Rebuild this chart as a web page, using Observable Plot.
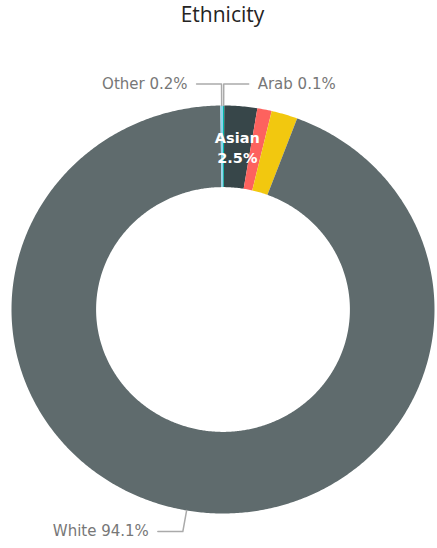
<!DOCTYPE html>
<html>
<head>
<meta charset="utf-8">
<script src="https://cdn.jsdelivr.net/npm/d3@7"></script>
<script src="https://cdn.jsdelivr.net/npm/@observablehq/plot@0.6"></script>
<style>
  html, body { margin: 0; padding: 0; background: #fff; }
  #title { height: 35px; box-sizing: border-box; text-align: center; font: 21px/27px "Open Sans", sans-serif; color: #252423; padding-left: 8px; padding-top: 1px; }
  svg { display: block; }
</style>
</head>
<body>
<div id="title">Ethnicity</div>
<div id="chart"></div>
<script>
// Data (clockwise from 12 o'clock)
const categories = ["Arab", "Asian", "Black", "Mixed", "White", "Other"];
const shares = [0.1, 2.5, 1.1, 2.0, 94.1, 0.2];
const colors = ["#01B8AA", "#374649", "#FD625E", "#F2C80F", "#5F6B6D", "#8AD4EB"];
const outsideLabels = ["Other", "Arab", "White"];
const insideLabels = ["Asian"];

// Layout constants
const innerR = 0.6, outerR = 1, elbowR = 1.105, armLen = 0.118;

const pie = d3.pie().sort(null).value(d => d)(shares);
const slices = pie.map((p, i) => ({key: categories[i], value: shares[i], a0: p.startAngle, a1: p.endAngle, mid: (p.startAngle + p.endAngle) / 2}));

// Slice outlines
const slicePts = [];
for (const s of slices) {
  const n = Math.max(2, Math.ceil((s.a1 - s.a0) / (Math.PI / 360)));
  for (let k = 0; k <= n; k++) {
    const a = s.a0 + (s.a1 - s.a0) * k / n;
    slicePts.push({key: s.key, x: outerR * Math.sin(a), y: outerR * Math.cos(a)});
  }
  for (let k = n; k >= 0; k--) {
    const a = s.a0 + (s.a1 - s.a0) * k / n;
    slicePts.push({key: s.key, x: innerR * Math.sin(a), y: innerR * Math.cos(a)});
  }
}

// Leader lines & outside labels
const leaderPts = [];
const outText = [];
for (const name of outsideLabels) {
  const s = slices.find(d => d.key === name);
  const side = Math.sin(s.mid) < 0 ? -1 : 1;
  const ex = elbowR * Math.sin(s.mid), ey = elbowR * Math.cos(s.mid);
  leaderPts.push({key: name, x: outerR * Math.sin(s.mid), y: outerR * Math.cos(s.mid)});
  leaderPts.push({key: name, x: ex, y: ey});
  leaderPts.push({key: name, x: ex + side * armLen, y: ey});
  outText.push({key: name, x: ex + side * armLen, y: ey, side, text: `${name} ${s.value}%`});
}

const inText = insideLabels.map(name => {
  const s = slices.find(d => d.key === name);
  const r = (innerR + outerR) / 2;
  return {x: r * Math.sin(s.mid), y: r * Math.cos(s.mid), text: `${name}\n${s.value}%`};
});

const chart = Plot.plot({
  width: 437,
  height: 513,
  marginLeft: 11,
  marginRight: 3,
  marginTop: 70,
  marginBottom: 35,
  x: {domain: [-1, 1], axis: null},
  y: {domain: [-1, 1], axis: null},
  color: {domain: categories, range: colors},
  style: {fontFamily: "DejaVu Sans, sans-serif"},
  marks: [
    Plot.line(slicePts, {x: "x", y: "y", z: "key", fill: "key", stroke: "none"}),
    Plot.line(leaderPts, {x: "x", y: "y", z: "key", stroke: "#aaaaaa", strokeWidth: 1.5}),
    Plot.text(outText.filter(d => d.side < 0), {x: "x", y: "y", text: "text", textAnchor: "end", dx: -9, fill: "#777777", fontSize: 15}),
    Plot.text(outText.filter(d => d.side > 0), {x: "x", y: "y", text: "text", textAnchor: "start", dx: 9, fill: "#777777", fontSize: 15}),
    Plot.text(inText, {x: "x", y: "y", text: "text", fill: "white", fontSize: 14.5, fontWeight: "bold", lineHeight: 1.35})
  ]
});
document.getElementById("chart").appendChild(chart);
</script>
</body>
</html>
